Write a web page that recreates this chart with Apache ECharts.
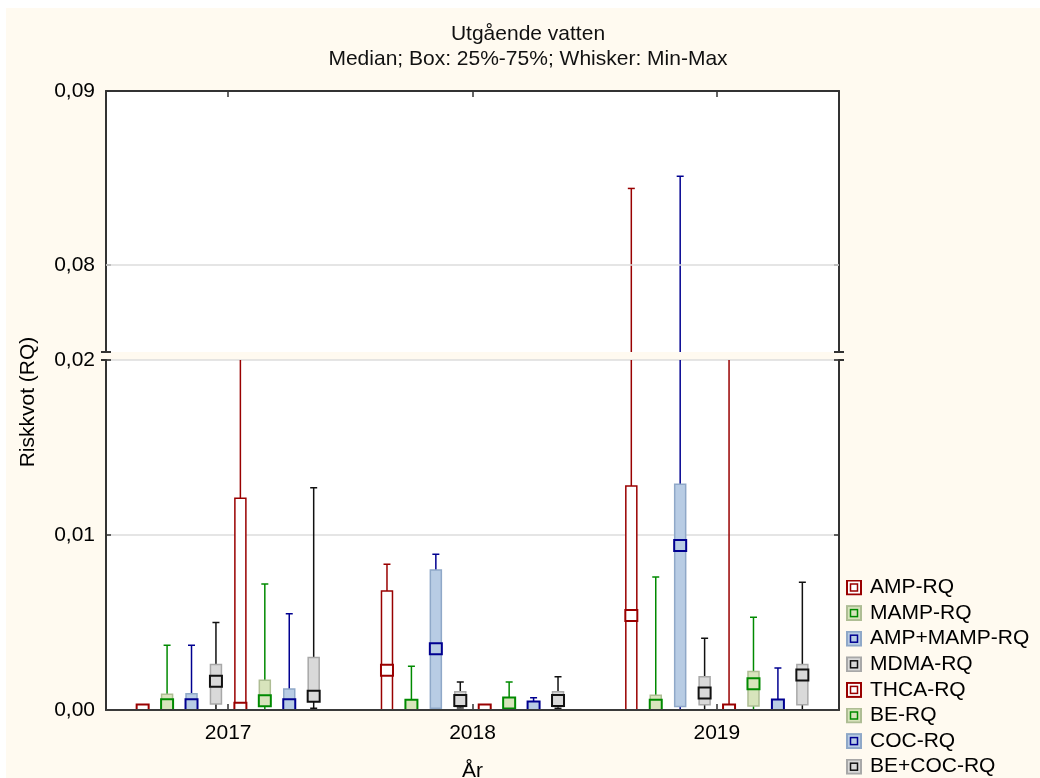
<!DOCTYPE html>
<html><head><meta charset="utf-8">
<script src="https://cdn.jsdelivr.net/npm/echarts@6/dist/echarts.min.js"></script>
<style>
html,body{margin:0;padding:0;background:#fff;width:1040px;height:778px;overflow:hidden}
#chart{position:absolute;left:6px;top:8px;width:1034px;height:800px;}
</style></head><body><div id="chart"></div>
<script>
// ---- data ----
const years = ['2017', '2018', '2019'];
const drugs = ['AMP-RQ', 'MAMP-RQ', 'AMP+MAMP-RQ', 'MDMA-RQ', 'THCA-RQ', 'BE-RQ', 'COC-RQ', 'BE+COC-RQ'];
// each row: [min, q1, median, q3, max] for 2017, 2018, 2019
const ampRQ     = [[0, 0, 0, 0.00003, 0.00005], [0, 0, 0.00227, 0.0068, 0.00833], [0, 0, 0.0054, 0.0128, 0.0844]];
const mampRQ    = [[0, 0.00005, 0.0003, 0.0009, 0.0037], [0, 0.00005, 0.00027, 0.0004, 0.0025], [0, 0.00005, 0.00027, 0.00084, 0.0076]];
const ampMampRQ = [[0, 0.00005, 0.0003, 0.00093, 0.0037], [0, 0.0001, 0.0035, 0.0080, 0.0089], [0, 0.0002, 0.0094, 0.0129, 0.0851]];
const mdmaRQ    = [[0, 0.00034, 0.00164, 0.0026, 0.0050], [0.00012, 0.0002, 0.00055, 0.00105, 0.0016], [0, 0.0003, 0.00097, 0.0019, 0.0041]];
const thcaRQ    = [[0, 0, 0.0001, 0.0121, 0.035], [0, 0, 0, 0.00002, 0.00004], [0, 0, 0, 0.00003, 0.05]];
const beRQ      = [[0, 0.00023, 0.00053, 0.0017, 0.0072], [0, 0.0001, 0.0004, 0.0007, 0.0016], [0, 0.00023, 0.0015, 0.0022, 0.0053]];
const cocRQ     = [[0, 0.00003, 0.0003, 0.0012, 0.0055], [0, 0.00003, 0.00017, 0.00038, 0.0007], [0, 0.00003, 0.00029, 0.00057, 0.0024]];
const beCocRQ   = [[0.0001, 0.0005, 0.00078, 0.0030, 0.0127], [0.0001, 0.0002, 0.00055, 0.00105, 0.0019], [0, 0.0003, 0.002, 0.0026, 0.0073]];
const threshold = 0.001;
const upperTicks = [0.08, 0.09];
const upperGridLines = [0.08];
const upperRange = [0.075, 0.09];
const lowerRange = [0, 0.02];
const lowerInterval = 0.01;

const seriesValues = [ampRQ, mampRQ, ampMampRQ, mdmaRQ, thcaRQ, beRQ, cocRQ, beCocRQ];

// ---- styles ----
const RED = {line: '#990000', fill: '#ffffff', box: '#990000'};
const GREEN = {line: '#008a00', fill: '#d8e4bc', box: '#aebd94'};
const BLUE = {line: '#000090', fill: '#b8cce4', box: '#8fa8c8'};
const GRAY = {line: '#111111', fill: '#d9d9d9', box: '#a8a8a8'};
const styles = [RED, GREEN, BLUE, GRAY, RED, GREEN, BLUE, GRAY];
const FONT = '"Liberation Sans", Arial, sans-serif';
const FS = 21;
const STEP = 0.1;      // fraction of band between neighbouring boxes
const BOX_W = 11, MED_W = 12, MED_H = 11, CAP = 3.5;

const W = 1034;
const L = 100, R = 201;          // grid left/right
const UP_TOP = 83, UP_H = 261;   // upper panel
const LO_TOP = 352, LO_H = 350;  // lower panel

function fmt(v) { return v.toFixed(2).replace('.', ','); }

function makeRender(k) {
  const st = styles[k];
  return function (params, api) {
    const xi = api.value(0);
    const band = api.size([1, 0])[0];
    const p = api.coord([xi, api.value(1)]);
    const cx = p[0] + (k - (drugs.length - 1) / 2) * band * STEP;
    const ys = [1, 2, 3, 4, 5].map(d => api.coord([xi, api.value(d)])[1]);
    const yMin = ys[0], yQ1 = ys[1], yMed = ys[2], yQ3 = ys[3], yMax = ys[4];
    const ls = {stroke: st.line, lineWidth: 1.5};
    return {
      type: 'group',
      children: [
        {type: 'line', shape: {x1: cx, y1: yMin, x2: cx, y2: yMax}, style: ls},
        {type: 'line', shape: {x1: cx - CAP, y1: yMax, x2: cx + CAP, y2: yMax}, style: ls},
        {type: 'line', shape: {x1: cx - CAP, y1: yMin, x2: cx + CAP, y2: yMin}, style: ls},
        {type: 'rect', shape: {x: cx - BOX_W / 2, y: yQ3, width: BOX_W, height: Math.max(yQ1 - yQ3, 0)},
          style: {fill: st.fill, stroke: st.box, lineWidth: 1.5}},
        {type: 'rect', shape: {x: cx - MED_W / 2, y: yMed - MED_H / 2, width: MED_W, height: MED_H},
          style: {fill: st.fill, stroke: st.line, lineWidth: 2}}
      ]
    };
  };
}

function iconFor(st) {
  const svg = '<svg xmlns="http://www.w3.org/2000/svg" width="16" height="16">' +
    '<rect x="1" y="1" width="14" height="14" fill="' + st.fill + '" stroke="' + st.box + '" stroke-width="2"/>' +
    '<rect x="4.5" y="4.5" width="7" height="7" fill="' + st.fill + '" stroke="' + st.line + '" stroke-width="1.5"/></svg>';
  return 'image://data:image/svg+xml;charset=utf-8,' + encodeURIComponent(svg);
}

const series = [];
// grid lines / threshold (beneath boxes)
series.push({type: 'line', xAxisIndex: 0, yAxisIndex: 0, data: [], z: 1, silent: true,
  markLine: {silent: true, symbol: 'none', label: {show: false}, animation: false,
    lineStyle: {color: '#dcdcdc', width: 1.5, type: 'solid'},
    data: upperGridLines.map(v => ({yAxis: v}))}});
series.push({type: 'line', xAxisIndex: 1, yAxisIndex: 2, data: [], z: 1, silent: true,
  markLine: {silent: true, symbol: 'none', label: {show: false}, animation: false,
    lineStyle: {color: '#3a3a3a', width: 2, type: 'solid'},
    data: [{yAxis: threshold}]}});

[[0, 0], [1, 2]].forEach(([xi, yi]) => {
  drugs.forEach((name, k) => {
    series.push({
      type: 'custom', name: name, xAxisIndex: xi, yAxisIndex: yi, clip: true, z: 3,
      renderItem: makeRender(k),
      encode: {x: 0, y: [1, 2, 3, 4, 5]},
      data: years.map((y, i) => [i].concat(seriesValues[k][i]))
    });
  });
});

const axisLineStyle = {color: '#333', width: 2};
const tickStyle = {color: '#333', width: 1.5};

const option = {
  animation: false,
  backgroundColor: '#fffaf0',
  textStyle: {fontFamily: FONT},
  grid: [
    {left: L, width: W - L - R, top: UP_TOP, height: UP_H, show: true, backgroundColor: '#fff', borderWidth: 0},
    {left: L, width: W - L - R, top: LO_TOP, height: LO_H, show: true, backgroundColor: '#fff', borderWidth: 0}
  ],
  xAxis: [
    {gridIndex: 0, type: 'category', data: years, position: 'top', boundaryGap: true,
      axisLine: {show: true, onZero: false, lineStyle: axisLineStyle},
      axisTick: {show: true, inside: true, alignWithLabel: true, length: 6, lineStyle: tickStyle},
      axisLabel: {show: false}, splitLine: {show: false}},
    {gridIndex: 1, type: 'category', data: years, position: 'bottom', boundaryGap: true,
      axisLine: {show: true, onZero: false, lineStyle: axisLineStyle},
      axisTick: {show: true, inside: true, alignWithLabel: true, length: 6, lineStyle: tickStyle},
      axisLabel: {fontSize: FS, color: '#000', margin: 13, fontFamily: FONT}, splitLine: {show: false}}
  ],
  yAxis: [
    {gridIndex: 0, type: 'value', min: upperRange[0], max: upperRange[1], position: 'left',
      axisLine: {show: true, lineStyle: axisLineStyle},
      axisTick: {show: true, inside: true, length: 5, lineStyle: tickStyle, customValues: upperTicks},
      axisLabel: {customValues: upperTicks, formatter: fmt, fontSize: FS, color: '#000', margin: 11, fontFamily: FONT},
      splitLine: {show: false}},
    {gridIndex: 0, type: 'value', min: upperRange[0], max: upperRange[1], position: 'right',
      axisLine: {show: true, lineStyle: axisLineStyle},
      axisTick: {show: true, inside: true, length: 5, lineStyle: tickStyle, customValues: upperTicks},
      axisLabel: {show: false}, splitLine: {show: false}},
    {gridIndex: 1, type: 'value', min: lowerRange[0], max: lowerRange[1], interval: lowerInterval, position: 'left',
      axisLine: {show: true, lineStyle: axisLineStyle},
      axisTick: {show: true, inside: true, length: 5, lineStyle: tickStyle},
      axisLabel: {formatter: fmt, fontSize: FS, color: '#000', margin: 11, fontFamily: FONT},
      splitLine: {show: true, lineStyle: {color: '#dcdcdc', width: 1.5}}},
    {gridIndex: 1, type: 'value', min: lowerRange[0], max: lowerRange[1], interval: lowerInterval, position: 'right',
      axisLine: {show: true, lineStyle: axisLineStyle},
      axisTick: {show: true, inside: true, length: 5, lineStyle: tickStyle},
      axisLabel: {show: false}, splitLine: {show: false}}
  ],
  legend: {
    orient: 'vertical', left: 840, top: 569, padding: 0, itemWidth: 16, itemHeight: 16, itemGap: 4.6,
    textStyle: {fontSize: FS, color: '#000', fontFamily: FONT, padding: [0, 0, 0, 3]},
    data: drugs.map((n, k) => ({name: n, icon: iconFor(styles[k])})),
    selectedMode: false
  },
  graphic: [
    {type: 'text', x: 522, y: 26, style: {text: 'Utgående vatten', font: FS + 'px ' + FONT, fill: '#111', align: 'center', verticalAlign: 'middle'}},
    {type: 'text', x: 522, y: 51, style: {text: 'Median; Box: 25%-75%; Whisker: Min-Max', font: FS + 'px ' + FONT, fill: '#111', align: 'center', verticalAlign: 'middle'}},
    {type: 'text', x: 22, y: 394, rotation: Math.PI / 2, style: {text: 'Riskkvot (RQ)', font: FS + 'px ' + FONT, fill: '#000', align: 'center', verticalAlign: 'middle'}},
    {type: 'text', x: 466.5, y: 763, style: {text: 'År', font: FS + 'px ' + FONT, fill: '#000', align: 'center', verticalAlign: 'middle'}},
    // axis break marks
    {type: 'line', shape: {x1: L - 5, y1: UP_TOP + UP_H, x2: L + 5, y2: UP_TOP + UP_H}, style: {stroke: '#333', lineWidth: 2}},
    {type: 'line', shape: {x1: L - 5, y1: LO_TOP, x2: L + 5, y2: LO_TOP}, style: {stroke: '#333', lineWidth: 2}},
    {type: 'line', shape: {x1: W - R - 5, y1: UP_TOP + UP_H, x2: W - R + 5, y2: UP_TOP + UP_H}, style: {stroke: '#333', lineWidth: 2}},
    {type: 'line', shape: {x1: W - R - 5, y1: LO_TOP, x2: W - R + 5, y2: LO_TOP}, style: {stroke: '#333', lineWidth: 2}}
  ],
  series: series
};

const chart = echarts.init(document.getElementById('chart'), null, {renderer: 'canvas'});
chart.setOption(option);
</script></body></html>
